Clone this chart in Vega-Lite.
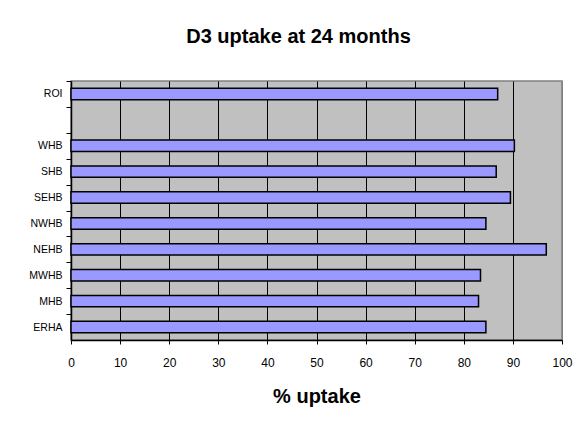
{
  "$schema": "https://vega.github.io/schema/vega-lite/v6.json",
  "width": 491,
  "height": 259,
  "autosize": {"type": "none"},
  "padding": {"left": 71, "top": 81, "right": 22, "bottom": 94},
  "background": "white",
  "title": {
    "text": "D3 uptake at 24 months",
    "font": "Liberation Sans",
    "fontSize": 20,
    "fontWeight": "bold",
    "color": "black",
    "anchor": "middle",
    "dx": -18,
    "baseline": "alphabetic",
    "offset": 18
  },
  "data": {
    "values": [
      {"region": "ROI", "uptake": 86.9},
      {"region": "WHB", "uptake": 90.3},
      {"region": "SHB", "uptake": 86.6},
      {"region": "SEHB", "uptake": 89.5},
      {"region": "NWHB", "uptake": 84.5},
      {"region": "NEHB", "uptake": 96.8},
      {"region": "MWHB", "uptake": 83.4},
      {"region": "MHB", "uptake": 83.0},
      {"region": "ERHA", "uptake": 84.5}
    ]
  },
  "mark": {"type": "bar", "fill": "#9999ff", "stroke": "black", "strokeWidth": 1.5},
  "encoding": {
    "y": {
      "field": "region",
      "type": "nominal",
      "sort": null,
      "scale": {
        "domain": ["ROI", " ", "WHB", "SHB", "SEHB", "NWHB", "NEHB", "MWHB", "MHB", "ERHA"],
        "paddingInner": 0.56,
        "paddingOuter": 0.28
      },
      "axis": {
        "title": null,
        "tickOffset": -12.95,
        "labelOffset": 12.95,
        "domainColor": "black",
        "domainWidth": 1.5,
        "tickColor": "black",
        "tickSize": 5,
        "tickWidth": 1,
        "labelFont": "Liberation Sans",
        "labelFontSize": 10.5,
        "labelColor": "black",
        "labelPadding": 4,
        "grid": false
      }
    },
    "x": {
      "field": "uptake",
      "type": "quantitative",
      "scale": {"domain": [0, 100], "nice": false},
      "axis": {
        "values": [0, 10, 20, 30, 40, 50, 60, 70, 80, 90, 100],
        "grid": true,
        "gridColor": {"condition": {"test": "datum.value === 100 || datum.value === 0", "value": "#808080"}, "value": "black"},
        "gridWidth": 1,
        "gridOpacity": 1,
        "domainColor": "black",
        "domainWidth": 1.5,
        "tickColor": "black",
        "tickSize": 4,
        "labelFont": "Liberation Sans",
        "labelFontSize": 12,
        "labelColor": "black",
        "labelBaseline": "alphabetic",
        "labelPadding": 22,
        "labelFlush": false,
        "title": "% uptake",
        "titleFont": "Liberation Sans",
        "titleFontSize": 20,
        "titleFontWeight": "bold",
        "titleColor": "black",
        "titleBaseline": "alphabetic",
        "titleX": 245.5,
        "titleY": 62
      }
    }
  },
  "config": {
    "view": {"fill": "#c0c0c0", "stroke": "#808080", "strokeWidth": 1.5}
  }
}
